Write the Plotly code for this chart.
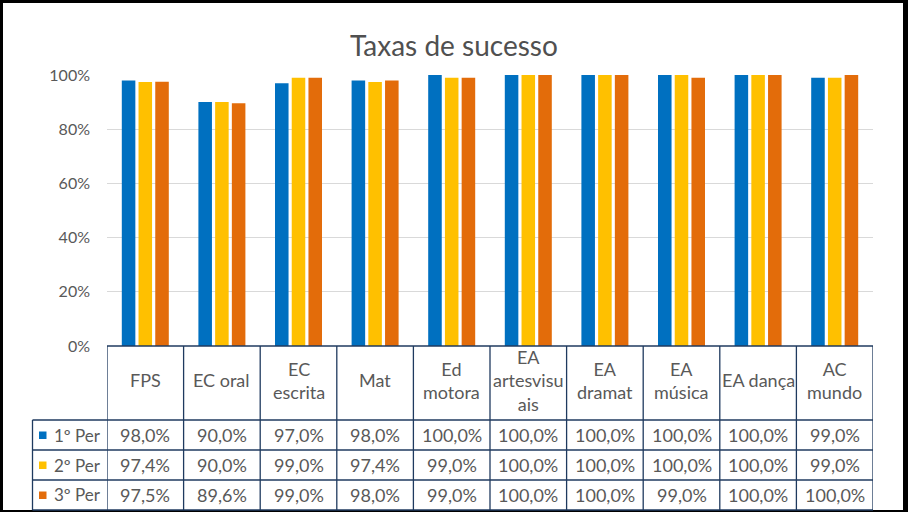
import plotly.graph_objects as go

categories = ["FPS", "EC oral", "EC escrita", "Mat", "Ed motora",
              "EA artesvisuais", "EA dramat", "EA música", "EA dança", "AC mundo"]
header_labels = ["FPS", "EC oral", "EC<br>escrita", "Mat", "Ed<br>motora",
                 "EA<br>artesvisu<br>ais", "EA<br>dramat", "EA<br>música", "EA dança", "AC<br>mundo"]
series_names = ["1º Per", "2º Per", "3º Per"]
per1 = [98.0, 90.0, 97.0, 98.0, 100.0, 100.0, 100.0, 100.0, 100.0, 99.0]
per2 = [97.4, 90.0, 99.0, 97.4, 99.0, 100.0, 100.0, 100.0, 100.0, 99.0]
per3 = [97.5, 89.6, 99.0, 98.0, 99.0, 100.0, 100.0, 99.0, 100.0, 100.0]
colors = ["#0070C0", "#FFC000", "#E36C0A"]
y_ticks = [0, 0.2, 0.4, 0.6, 0.8, 1.0]

W, H = 908, 512
L, R, T, B = 107, 873, 75, 346
PW, PH = R - L, B - T


def px(x):
    return (x - L) / PW


def py(y):
    return (B - y) / PH


TXT = "#595959"
LINE = "#1F3A5F"
FONT = "Lato"
TS = 18

fig = go.Figure()
series = [per1, per2, per3]
for name, vals, col in zip(series_names, series, colors):
    fig.add_trace(go.Bar(x=list(range(len(categories))), y=[v / 100 for v in vals],
                         name=name, marker=dict(color=col, line=dict(width=0)),
                         showlegend=False))

shapes = []
# white card over black frame
shapes.append(dict(type="rect", xref="paper", yref="paper", x0=px(3), x1=px(903),
                   y0=py(510), y1=py(3), fillcolor="white", line=dict(width=0), layer="below"))

lw = 1.3
# horizontal table lines
shapes.append(dict(type="line", xref="x", yref="paper", x0=-0.5, x1=len(categories) - 0.5,
                   y0=py(346), y1=py(346), line=dict(color=LINE, width=lw)))
for yy in [420, 450, 480, 510]:
    shapes.append(dict(type="line", xref="paper", yref="paper", x0=px(32.5), x1=1,
                       y0=py(yy), y1=py(yy), line=dict(color=LINE, width=lw)))
# vertical lines
for i in range(len(categories) + 1):
    shapes.append(dict(type="line", xref="x", yref="paper", x0=i - 0.5, x1=i - 0.5,
                       y0=py(346), y1=py(510), line=dict(color=LINE, width=lw)))
shapes.append(dict(type="line", xref="paper", yref="paper", x0=px(32.5), x1=px(32.5),
                   y0=py(420), y1=py(510), line=dict(color=LINE, width=lw)))

annotations = []
annotations.append(dict(text="Taxas de sucesso", xref="paper", yref="paper",
                        x=px(454), y=py(45), xanchor="center", yanchor="middle",
                        showarrow=False, font=dict(family=FONT, size=28, color="#505050")))
for i, lab in enumerate(header_labels):
    annotations.append(dict(text=lab, xref="x", yref="paper", x=i, y=py(380),
                            xanchor="center", yanchor="middle", showarrow=False,
                            font=dict(family=FONT, size=TS, color=TXT)))
row_y = [435, 465, 495]
for r, (name, vals, col) in enumerate(zip(series_names, series, colors)):
    yc = row_y[r]
    shapes.append(dict(type="rect", xref="paper", yref="paper", x0=px(39), x1=px(46.5),
                       y0=py(yc + 4), y1=py(yc - 3.5), fillcolor=col, line=dict(width=0)))
    annotations.append(dict(text=name, xref="paper", yref="paper", x=px(77), y=py(yc),
                            xanchor="center", yanchor="middle", showarrow=False,
                            font=dict(family=FONT, size=17, color=TXT)))
    for i, v in enumerate(vals):
        annotations.append(dict(text=f"{v:.1f}".replace(".", ",") + "%", xref="x",
                                yref="paper", x=i, y=py(yc), xanchor="center",
                                yanchor="middle", showarrow=False,
                                font=dict(family=FONT, size=TS, color=TXT)))

fig.update_layout(
    width=W, height=H,
    margin=dict(l=L, r=W - R, t=T, b=H - B, pad=0),
    paper_bgcolor="black", plot_bgcolor="white",
    barmode="group", bargap=0.345, bargroupgap=0.19,
    shapes=shapes, annotations=annotations,
    xaxis=dict(range=[-0.5, len(categories) - 0.5], showticklabels=False, showgrid=False,
               zeroline=False, showline=False, ticks="", fixedrange=True),
    yaxis=dict(range=[0, 1], tickvals=y_ticks, tickformat=".0%", showgrid=True,
               gridcolor="#D9D9D9", gridwidth=1, zeroline=False, showline=False,
               ticks="", ticklabelstandoff=16,
               tickfont=dict(family=FONT, size=16, color=TXT)),
    showlegend=False,
)

fig.write_html("out.html", config={"displayModeBar": False},
               post_script="document.body.style.margin='0';"
                           "document.documentElement.style.overflow='hidden';")
